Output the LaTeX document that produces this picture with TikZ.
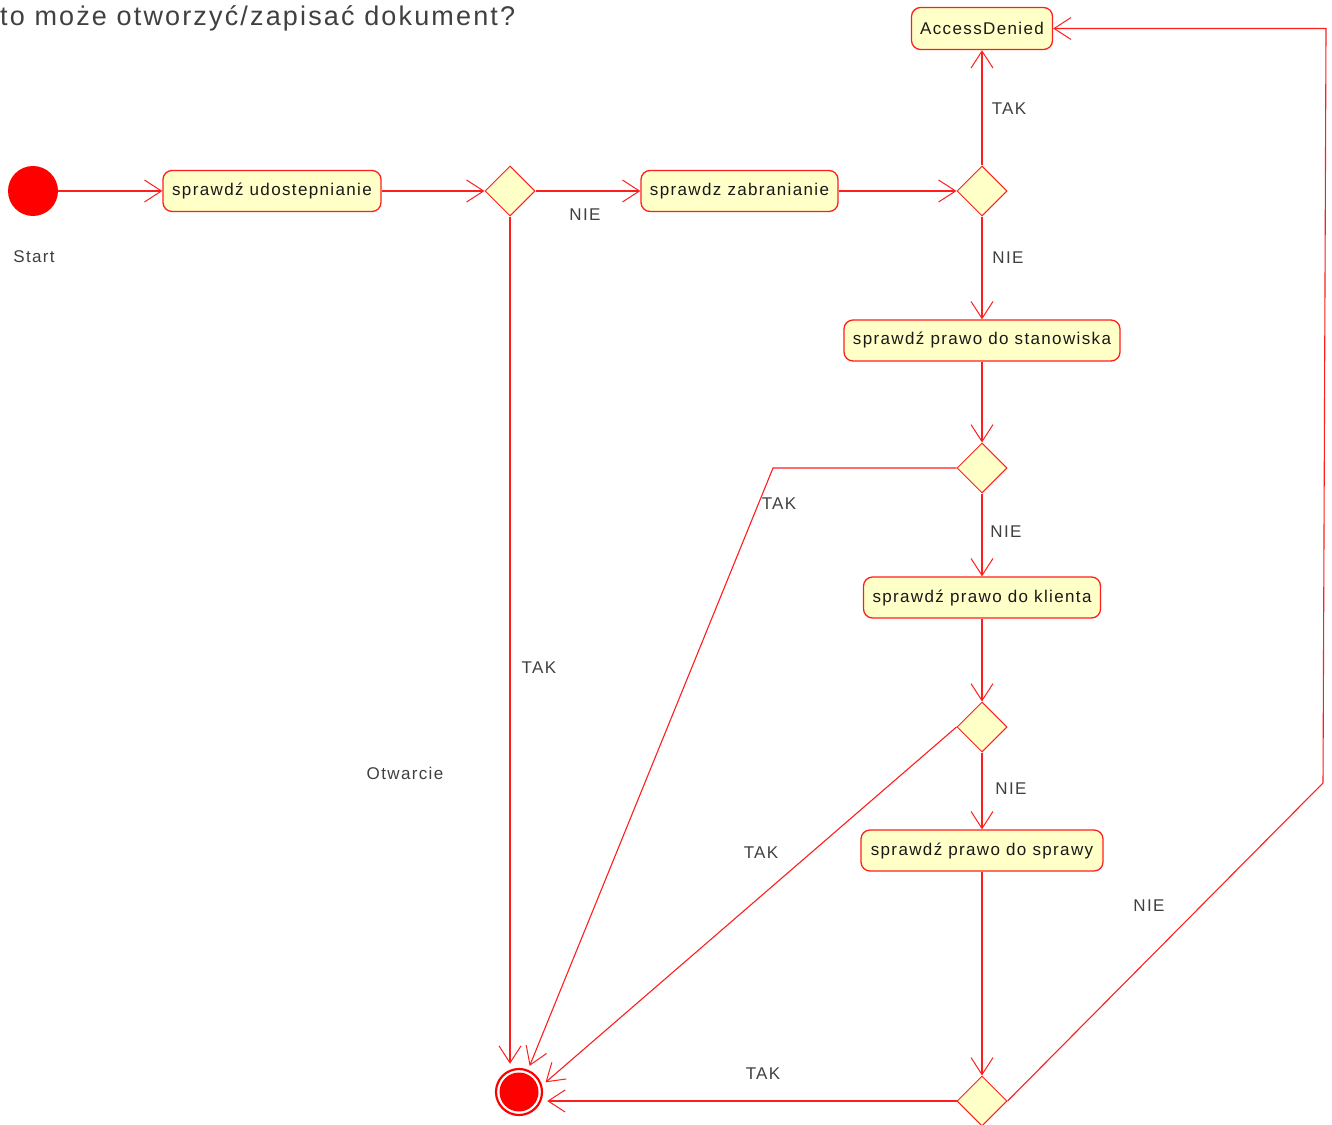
\documentclass[tikz,border=0pt]{standalone}
\usepackage{fontspec}
\setmainfont{Liberation Sans}[LetterSpace=8]
\usetikzlibrary{shapes.geometric,arrows.meta}
\definecolor{boxyellow}{RGB}{255,255,200}
\definecolor{linered}{RGB}{255,30,30}
\definecolor{labgray}{RGB}{64,64,64}
\definecolor{boxtext}{RGB}{25,25,25}
\tikzset{
  flow/.style={draw=linered, line width=1.1pt, -{Straight Barb[length=17pt,width=22pt,line width=1pt]}},
  actbox/.style={draw=linered, line width=1.3pt, fill=boxyellow, rounded corners=9pt,
    minimum height=41pt, inner sep=0pt, text=boxtext, font=\fontsize{17}{20}\selectfont},
  decision/.style={diamond, draw=linered, line width=1pt, fill=boxyellow, minimum width=50pt,
    minimum height=50pt, inner sep=0pt},
  lbl/.style={text=labgray, font=\fontsize{17}{20}\selectfont, inner sep=0pt},
}
\begin{document}
\begin{tikzpicture}[x=1pt,y=-1pt]
\useasboundingbox (0,0) rectangle (1332,1124);
\fill[white] (0,0) rectangle (1332,1124);
% title
\node[anchor=base west, inner sep=0pt, text=labgray, font=\fontsize{27}{30}\selectfont] (title) at (0,26) {to może otworzyć/zapisać dokument?};
% nodes
\node[circle, fill=red, minimum size=50pt, inner sep=0pt] (start) at (33,191) {};
\node[lbl] (startlbl) at (34,257) {Start};
\node[actbox, minimum width=218pt] (b1) at (272,191) {sprawdź udostepnianie};
\node[decision] (d1) at (510,191) {};
\node[actbox, minimum width=197pt] (b2) at (739.5,191) {sprawdz zabranianie};
\node[decision] (d2) at (982,191) {};
\node[actbox, minimum width=141pt, minimum height=42pt] (ad) at (982,28.5) {AccessDenied};
\node[actbox, minimum width=276pt] (b3) at (982,340.5) {sprawdź prawo do stanowiska};
\node[decision] (d3) at (982,468) {};
\node[actbox, minimum width=237pt] (b4) at (982,597.5) {sprawdź prawo do klienta};
\node[decision] (d4) at (982,727) {};
\node[actbox, minimum width=242pt] (b5) at (982,850.5) {sprawdź prawo do sprawy};
\node[decision] (d5) at (982,1101) {};
% final node
\node[circle, minimum size=56pt, inner sep=0pt] (endnode) at (519,1092) {};
\draw[red, line width=2.2pt] (endnode.center) circle (23pt);
\fill[red] (endnode.center) circle (19.5pt);
\node[lbl] (endlbl) at (405,773) {Otwarcie};
% corner coordinates
\coordinate (c3) at (773,468);
\coordinate (c5a) at (1323,783);
\coordinate (c5b) at (1326,28.5);
% connectors
\draw[flow] (start) -- (b1);
\draw[flow] (b1) -- (d1);
\draw[flow] (d1) -- (b2);
\draw[flow] (b2) -- (d2);
\draw[flow] (d2) -- (ad);
\draw[flow] (d2) -- (b3);
\draw[flow] (b3) -- (d3);
\draw[flow] (d3) -- (b4);
\draw[flow] (b4) -- (d4);
\draw[flow] (d4) -- (b5);
\draw[flow] (b5) -- (d5);
\draw[flow] (d1.south) -- (d1.south |- endnode.north);
\draw[flow] (d3.west) -- (c3) -- (endnode);
\draw[flow] (d4.west) -- (endnode.20);
\draw[flow] (d5.west) -- (d5.west -| endnode.east);
\draw[flow] (d5.east) -- (c5a) -- (c5b) -- (ad.east);
% labels
\node[lbl] at (585,215) {NIE};
\node[lbl] at (1009,109) {TAK};
\node[lbl] at (1008,258) {NIE};
\node[lbl] at (779,504) {TAK};
\node[lbl] at (1006,532) {NIE};
\node[lbl] at (539,668) {TAK};
\node[lbl] at (1011,789) {NIE};
\node[lbl] at (761,853) {TAK};
\node[lbl] at (1149,906) {NIE};
\node[lbl] at (763,1074) {TAK};
\end{tikzpicture}
\end{document}
